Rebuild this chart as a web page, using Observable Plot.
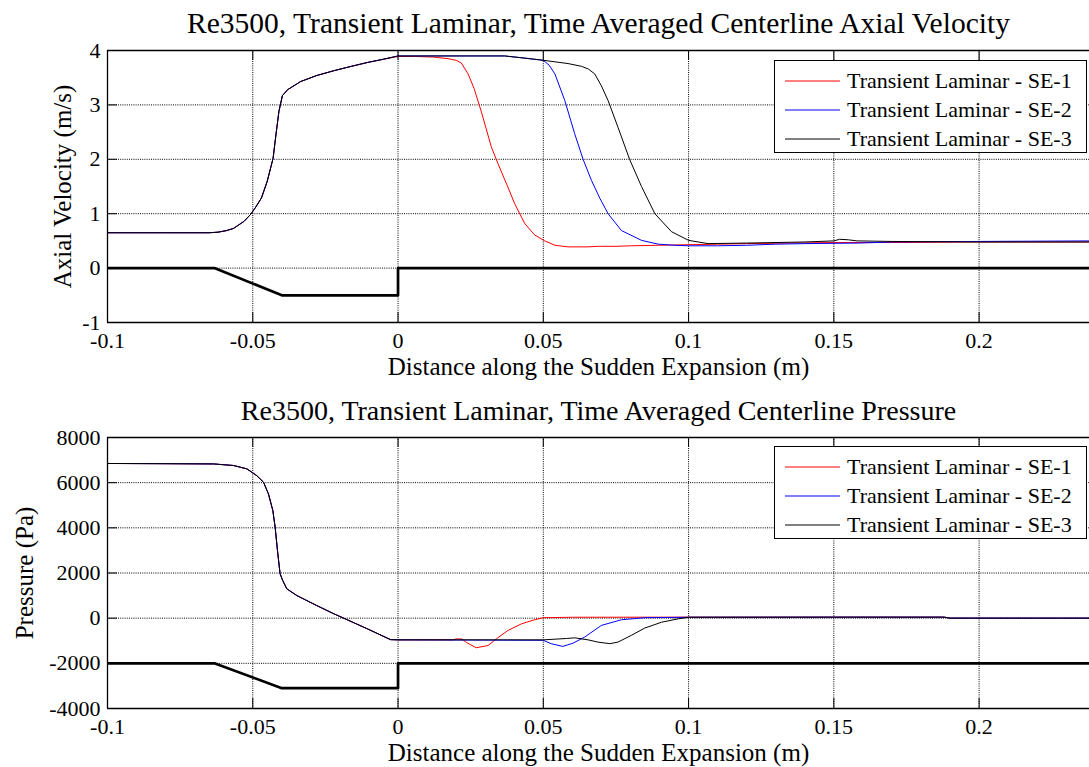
<!DOCTYPE html>
<html>
<head>
<meta charset="utf-8">
<script src="https://cdn.jsdelivr.net/npm/d3@7"></script>
<script src="https://cdn.jsdelivr.net/npm/@observablehq/plot@0.6"></script>
<style>
  html, body { margin: 0; padding: 0; background: #fff; overflow: hidden; }
  #wrap { position: relative; width: 1089px; height: 767px; font-family: "Liberation Serif", "Times New Roman", serif; }
  #wrap svg { display: block; }
  .legend { position: absolute; width: 311px; height: 91px; border: 1px solid #000; background: #fff; box-sizing: content-box; }
  .legend .row { position: absolute; left: 0; height: 29px; line-height: 29px; font-size: 22px; white-space: nowrap; color: #000; font-family: "Liberation Serif", "Times New Roman", serif; }
  .legend .row svg { position: absolute; left: 10px; top: 14px; }
  .legend .row span { position: absolute; left: 72px; top: 0; }
</style>
</head>
<body>
<div id="wrap"></div>
<script>
// Series names and colours
const seriesNames = ["Transient Laminar - SE-1", "Transient Laminar - SE-2", "Transient Laminar - SE-3"];
const seriesColors = ["#ff0000", "#0000ff", "#000000"];

// Axis ticks
const xTicks = [-0.1, -0.05, 0, 0.05, 0.1, 0.15, 0.2];
const xTickLabels = ["-0.1", "-0.05", "0", "0.05", "0.1", "0.15", "0.2"];
const velTicks = [-1, 0, 1, 2, 3, 4];
const velTickLabels = ["-1", "0", "1", "2", "3", "4"];
const presTicks = [-4000, -2000, 0, 2000, 4000, 6000, 8000];
const presTickLabels = ["-4000", "-2000", "0", "2000", "4000", "6000", "8000"];
const xDomain = [-0.1, 0.238];

// Geometry outline of the sudden expansion (drawn as a thick black trace)
const geomX = [-0.1, -0.0632, -0.0400, 0, 0, 0.238];
const geomVel = [0, 0, -0.5, -0.5, 0, 0];
const geomPres = [-2000, -2000, -3100, -3100, -2000, -2000];

// Upstream part of the centerline axial velocity (identical for all cases), m/s
const upX = [-0.1, -0.08, -0.065, -0.062, -0.059, -0.0566, -0.053, -0.0507, -0.049, -0.047, -0.045, -0.043, -0.042, -0.041, -0.0398, -0.038, -0.0335, -0.028, -0.022, -0.016, -0.0105, -0.005];
const upVel = [0.65, 0.65, 0.65, 0.66, 0.69, 0.73, 0.86, 0.99, 1.12, 1.29, 1.6, 2.02, 2.46, 2.88, 3.17, 3.28, 3.43, 3.54, 3.63, 3.71, 3.78, 3.84];

// Downstream centerline axial velocity, m/s
const se1X = [0, 0.006, 0.012, 0.0172, 0.02, 0.0218, 0.0241, 0.0262, 0.0287, 0.0321, 0.0344, 0.0378, 0.0401, 0.0436, 0.047, 0.0505, 0.054, 0.0585, 0.065, 0.069, 0.075, 0.08, 0.09, 0.1, 0.11, 0.12, 0.135, 0.15, 0.17, 0.2, 0.238];
const se1Vel = [3.89, 3.89, 3.88, 3.85, 3.82, 3.77, 3.57, 3.3, 2.87, 2.23, 1.92, 1.49, 1.19, 0.82, 0.61, 0.5, 0.42, 0.39, 0.39, 0.4, 0.4, 0.41, 0.42, 0.43, 0.44, 0.45, 0.46, 0.47, 0.47, 0.48, 0.48];
const se2X = [0, 0.01, 0.02, 0.03, 0.0367, 0.0436, 0.05, 0.052, 0.054, 0.0574, 0.0608, 0.0637, 0.0666, 0.0695, 0.0723, 0.0769, 0.0838, 0.0896, 0.095, 0.1, 0.11, 0.12, 0.13, 0.14, 0.1585, 0.17, 0.2, 0.238];
const se2Vel = [3.9, 3.9, 3.9, 3.9, 3.9, 3.86, 3.82, 3.73, 3.57, 3.08, 2.47, 2.0, 1.61, 1.28, 1.0, 0.69, 0.51, 0.44, 0.42, 0.41, 0.41, 0.42, 0.44, 0.45, 0.46, 0.48, 0.49, 0.5];
const se3X = [0, 0.01, 0.02, 0.03, 0.0367, 0.0436, 0.05, 0.0585, 0.0631, 0.0655, 0.0677, 0.07, 0.0723, 0.0757, 0.0797, 0.0838, 0.0884, 0.0941, 0.1, 0.1067, 0.12, 0.14, 0.15, 0.152, 0.155, 0.158, 0.17, 0.2, 0.238];
const se3Vel = [3.9, 3.9, 3.9, 3.9, 3.9, 3.86, 3.82, 3.76, 3.71, 3.66, 3.57, 3.35, 3.08, 2.59, 2.0, 1.5, 1.0, 0.67, 0.51, 0.45, 0.46, 0.48, 0.5, 0.53, 0.52, 0.5, 0.49, 0.48, 0.48];

// Upstream part of the centerline pressure (identical for all cases), Pa
const upPX = [-0.1, -0.08, -0.0635, -0.0566, -0.052, -0.0486, -0.0463, -0.0446, -0.0431, -0.0423, -0.0415, -0.0406, -0.0397, -0.0383, -0.0348, -0.028, -0.0222, -0.0106, -0.0026];
const upPres = [6850, 6840, 6830, 6760, 6610, 6310, 6020, 5500, 4770, 4030, 3000, 1970, 1670, 1300, 1000, 560, 200, -470, -950];

// Downstream centerline pressure, Pa
const se1PX = [0, 0.0189, 0.02, 0.022, 0.0235, 0.0269, 0.031, 0.0339, 0.0379, 0.0425, 0.047, 0.05, 0.06, 0.1, 0.15, 0.188, 0.19, 0.238];
const se1Pres = [-960, -960, -920, -920, -1070, -1310, -1210, -910, -540, -250, -70, 20, 40, 45, 45, 45, 0, 0];
const se2PX = [0, 0.05, 0.0527, 0.0567, 0.0602, 0.0642, 0.07, 0.0769, 0.085, 0.1, 0.15, 0.188, 0.19, 0.238];
const se2Pres = [-960, -980, -1130, -1250, -1110, -840, -320, -70, 20, 40, 45, 45, 0, 0];
const se3PX = [0, 0.05, 0.058, 0.0608, 0.0654, 0.0688, 0.0729, 0.0757, 0.0803, 0.0849, 0.0907, 0.0964, 0.1, 0.15, 0.188, 0.19, 0.238];
const se3Pres = [-960, -960, -900, -870, -960, -1060, -1130, -1060, -760, -440, -180, -30, 40, 45, 45, 0, 0];

// Build tidy rows for a series: shared upstream part followed by its own downstream part
function rows(name, xsA, ysA, xsB, ysB) {
  const out = [];
  xsA.forEach((x, i) => out.push({series: name, x, y: ysA[i]}));
  xsB.forEach((x, i) => out.push({series: name, x, y: ysB[i]}));
  return out;
}
const velData = [
  rows(seriesNames[0], upX, upVel, se1X, se1Vel),
  rows(seriesNames[1], upX, upVel, se2X, se2Vel),
  rows(seriesNames[2], upX, upVel, se3X, se3Vel)
];
const presData = [
  rows(seriesNames[0], upPX, upPres, se1PX, se1Pres),
  rows(seriesNames[1], upPX, upPres, se2PX, se2Pres),
  rows(seriesNames[2], upPX, upPres, se3PX, se3Pres)
];
const geomVelData = geomX.map((x, i) => ({x, y: geomVel[i]}));
const geomPresData = geomX.map((x, i) => ({x, y: geomPres[i]}));

const FONT = "Liberation Serif, Times New Roman, serif";
const W = 1089;
const ML = 107;

function panel({height, marginTop, marginBottom, yDomain, yTicks, yTickLabels, series, geom, title, titleSize, yLabel, yLabelDx}) {
  const innerH = height - marginTop - marginBottom;
  const innerW = W - ML;
  const gridX = xTicks.slice(1);
  const gridY = yTicks.slice(1, -1);
  const txt = {fill: "#000", fontFamily: FONT};
  const marks = [
    // dotted grid
    Plot.ruleX(gridX, {stroke: "#000", strokeWidth: 1, strokeDasharray: "1,1.2"}),
    Plot.ruleY(gridY, {stroke: "#000", strokeWidth: 1, strokeDasharray: "1,1.2"}),
    // inward ticks
    Plot.ruleX(xTicks, {insetTop: innerH - 10, stroke: "#000", strokeWidth: 1}),
    Plot.ruleX(xTicks, {insetBottom: innerH - 10, stroke: "#000", strokeWidth: 1}),
    Plot.ruleY(yTicks, {insetRight: innerW - 10, stroke: "#000", strokeWidth: 1}),
    // geometry outline
    Plot.line(geom, {x: "x", y: "y", stroke: "#000", strokeWidth: 2.7, clip: true}),
    // data series
    ...series.map((d, i) => Plot.line(d, {x: "x", y: "y", stroke: seriesColors[i], strokeWidth: 1, clip: true})),
    // axes box (left, top, bottom)
    Plot.ruleY([yDomain[0], yDomain[1]], {stroke: "#000", strokeWidth: 1.3}),
    Plot.ruleX([xDomain[0]], {stroke: "#000", strokeWidth: 1.3}),
    // tick labels
    Plot.text(xTicks, {x: d => d, text: (d, i) => xTickLabels[i], frameAnchor: "bottom", textAnchor: "middle", lineAnchor: "bottom", dy: 25, fontSize: 22, ...txt}),
    Plot.text(yTicks, {y: d => d, text: (d, i) => yTickLabels[i], frameAnchor: "left", textAnchor: "end", lineAnchor: "middle", dx: -7, fontSize: 22, ...txt}),
    // axis labels and title
    Plot.text([title], {text: d => d, frameAnchor: "top", textAnchor: "middle", lineAnchor: "bottom", dy: -18, fontSize: titleSize, ...txt}),
    Plot.text(["Distance along the Sudden Expansion (m)"], {text: d => d, frameAnchor: "bottom", textAnchor: "middle", lineAnchor: "bottom", dy: 52, fontSize: 25, ...txt}),
    Plot.text([yLabel], {text: d => d, frameAnchor: "left", textAnchor: "middle", lineAnchor: "bottom", rotate: -90, dx: yLabelDx, fontSize: 25, ...txt})
  ];
  return Plot.plot({
    width: W,
    height,
    marginLeft: ML,
    marginRight: 0,
    marginTop,
    marginBottom,
    style: {fontFamily: FONT, background: "#fff", color: "#000"},
    x: {domain: xDomain, axis: null},
    y: {domain: yDomain, axis: null},
    marks
  });
}

const wrap = document.getElementById("wrap");

wrap.appendChild(panel({
  height: 383, marginTop: 50, marginBottom: 61,
  yDomain: [-1, 4], yTicks: velTicks, yTickLabels: velTickLabels,
  series: velData, geom: geomVelData,
  title: "Re3500, Transient Laminar, Time Averaged Centerline Axial Velocity", titleSize: 29.5,
  yLabel: "Axial Velocity (m/s)", yLabelDx: -37
}));

wrap.appendChild(panel({
  height: 384, marginTop: 54, marginBottom: 59,
  yDomain: [-4000, 8000], yTicks: presTicks, yTickLabels: presTickLabels,
  series: presData, geom: geomPresData,
  title: "Re3500, Transient Laminar, Time Averaged Centerline Pressure", titleSize: 28,
  yLabel: "Pressure (Pa)", yLabelDx: -75
}));

// Legends (one per panel)
function legend(top) {
  const box = document.createElement("div");
  box.className = "legend";
  box.style.left = "774px";
  box.style.top = top + "px";
  seriesNames.forEach((name, i) => {
    const row = document.createElement("div");
    row.className = "row";
    row.style.top = (5 + i * 29) + "px";
    row.innerHTML = `<svg width="56" height="2"><line x1="0" x2="55" y1="1" y2="1" stroke="${seriesColors[i]}" stroke-width="1"/></svg><span>${name}</span>`;
    box.appendChild(row);
  });
  wrap.appendChild(box);
}
legend(60);
legend(446);
</script>
</body>
</html>
